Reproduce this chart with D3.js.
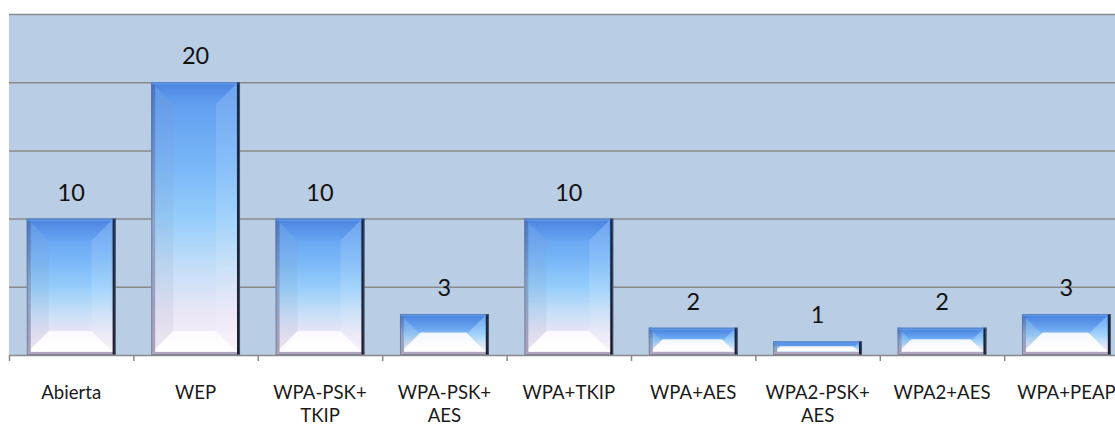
<!DOCTYPE html>
<html>
<head>
<meta charset="utf-8">
<script src="https://cdn.jsdelivr.net/npm/d3@7"></script>
<style>
  html, body { margin: 0; padding: 0; background: #ffffff; }
  svg { display: block; }
  .grid line { stroke: #8a8a8a; stroke-width: 1.5; }
  .grid path { display: none; }
  .x-line path, .x-line line { stroke: #8a8a8a; stroke-width: 1.5; }
  .x-labels text { font-family: Lato, "Open Sans", sans-serif; font-size: 18.6px; fill: #1a1a1a; }
  .value-label { font-family: Lato, "Open Sans", sans-serif; font-size: 23.5px; fill: #111111; }
</style>
</head>
<body>
<div id="chart"></div>
<script>
// Data
const categories = [
  "Abierta",
  "WEP",
  "WPA-PSK+TKIP",
  "WPA-PSK+AES",
  "WPA+TKIP",
  "WPA+AES",
  "WPA2-PSK+AES",
  "WPA2+AES",
  "WPA+PEAP",
];
const counts = [10, 20, 10, 3, 10, 2, 1, 2, 3];
const gridValues = [5, 10, 15, 20, 25];

// Dimensions
const svgWidth = 1115;
const svgHeight = 425;
const plot = { left: 9, top: 14, bottom: 355 };
const step = 124.4;
const plotRight = plot.left + step * categories.length;

const svg = d3
  .select("#chart")
  .append("svg")
  .attr("width", svgWidth)
  .attr("height", svgHeight);

// Scales (gap width 40% like the spreadsheet chart)
const xScale = d3
  .scaleBand()
  .domain(categories)
  .range([plot.left, plotRight])
  .paddingInner(0.4 / 1.4)
  .paddingOuter(0.2 / 1.4);
const yScale = d3.scaleLinear().domain([0, 25]).range([plot.bottom, plot.top]);
const boundaryScale = d3
  .scaleLinear()
  .domain([0, categories.length])
  .range([plot.left, plotRight]);

// Gradients
const defs = svg.append("defs");
function linear(id, stops, x2 = 0, y2 = 1) {
  const g = defs
    .append("linearGradient")
    .attr("id", id)
    .attr("x1", 0)
    .attr("y1", 0)
    .attr("x2", x2)
    .attr("y2", y2);
  g.selectAll("stop")
    .data(stops)
    .join("stop")
    .attr("offset", (d) => d[0])
    .attr("stop-color", (d) => d[1])
    .attr("stop-opacity", (d) => (d[2] === undefined ? 1 : d[2]));
}
linear("face", [
  [0, "#5b97ee"],
  [0.3, "#78b6f8"],
  [0.5, "#95cdfb"],
  [0.68, "#c4def8"],
  [0.85, "#ebe6f6"],
  [1, "#fbf4fc"],
]);
linear("topBevel", [
  [0, "#4a82dc", 0.85],
  [1, "#5d9aee", 0.35],
]);
linear("bottomBevel", [
  [0, "#fdfbff", 0.9],
  [1, "#ffffff", 1],
]);
linear("leftEdge", [
  [0, "#4a76c0"],
  [0.5, "#8aa2c8"],
  [1, "#aaa0b8"],
]);
linear("rightEdge", [
  [0, "#1a2844"],
  [1, "#1c1c26"],
]);

// Plot background
svg
  .append("rect")
  .attr("x", plot.left)
  .attr("y", plot.top)
  .attr("width", plotRight - plot.left)
  .attr("height", plot.bottom - plot.top)
  .attr("fill", "#b9cde5");

// Gridlines
svg
  .append("g")
  .attr("class", "grid")
  .attr("transform", `translate(${plot.left},0)`)
  .call(
    d3
      .axisLeft(yScale)
      .tickValues(gridValues)
      .tickSize(-(plotRight - plot.left))
      .tickFormat("")
  );

// Bars
const bars = svg
  .append("g")
  .selectAll(".bar")
  .data(categories.map((c, i) => ({ category: c, value: counts[i] })))
  .join("g")
  .attr("class", "bar");

bars.each(function (d) {
  const g = d3.select(this);
  const x = xScale(d.category);
  const w = xScale.bandwidth();
  const y = yScale(d.value);
  const h = yScale(0) - y;
  const e = 2; // frame
  const bevel = Math.min(20, (h - 2 * e) / 2);
  const ix = x + e;
  const iy = y + e;
  const iw = w - 2 * e - 2;
  const ih = h - 2 * e - 2;
  const poly = (pts) => pts.map((p) => p.join(",")).join(" ");

  g.append("rect")
    .attr("x", x)
    .attr("y", y)
    .attr("width", w)
    .attr("height", h)
    .attr("fill", "url(#face)");
  // top bevel
  g.append("polygon")
    .attr(
      "points",
      poly([
        [ix, iy],
        [ix + iw, iy],
        [ix + iw - bevel, iy + bevel],
        [ix + bevel, iy + bevel],
      ])
    )
    .attr("fill", "url(#topBevel)");
  // bottom bevel
  g.append("polygon")
    .attr(
      "points",
      poly([
        [ix, iy + ih],
        [ix + iw, iy + ih],
        [ix + iw - bevel, iy + ih - bevel],
        [ix + bevel, iy + ih - bevel],
      ])
    )
    .attr("fill", "url(#bottomBevel)");
  // side bevels
  g.append("polygon")
    .attr(
      "points",
      poly([
        [ix, iy],
        [ix + bevel, iy + bevel],
        [ix + bevel, iy + ih - bevel],
        [ix, iy + ih],
      ])
    )
    .attr("fill", "#8a94b4")
    .attr("opacity", 0.12);
  g.append("polygon")
    .attr(
      "points",
      poly([
        [ix + iw, iy],
        [ix + iw - bevel, iy + bevel],
        [ix + iw - bevel, iy + ih - bevel],
        [ix + iw, iy + ih],
      ])
    )
    .attr("fill", "#ffffff")
    .attr("opacity", 0.12);
  // frame: left, top, bottom, right
  g.append("rect")
    .attr("x", x)
    .attr("y", y)
    .attr("width", 4)
    .attr("height", h)
    .attr("fill", "url(#leftEdge)");
  g.append("rect")
    .attr("x", x)
    .attr("y", y)
    .attr("width", w)
    .attr("height", 2)
    .attr("fill", "#5e9ef8");
  g.append("rect")
    .attr("x", x)
    .attr("y", y + h - 3)
    .attr("width", w)
    .attr("height", 3)
    .attr("fill", "#b1a6bf");
  g.append("rect")
    .attr("x", x + w - 3)
    .attr("y", y)
    .attr("width", 3)
    .attr("height", h)
    .attr("fill", "url(#rightEdge)");
  g.append("rect")
    .attr("x", x + 0.5)
    .attr("y", y + 0.5)
    .attr("width", w - 1)
    .attr("height", h - 1)
    .attr("fill", "none")
    .attr("stroke", "#5a6a8c")
    .attr("stroke-opacity", 0.6);
});

// Value labels
bars
  .append("text")
  .attr("class", "value-label")
  .attr("x", (d) => xScale(d.category) + xScale.bandwidth() / 2)
  .attr("y", (d) => yScale(d.value) - 18)
  .attr("text-anchor", "middle")
  .text((d) => d.value);

// X axis line with ticks at category boundaries
svg
  .append("g")
  .attr("class", "x-line")
  .attr("transform", `translate(0,${plot.bottom})`)
  .call(
    d3
      .axisBottom(boundaryScale)
      .ticks(categories.length)
      .tickSize(6)
      .tickSizeOuter(0)
      .tickFormat("")
  );

// Category labels
const xLabels = svg
  .append("g")
  .attr("class", "x-labels")
  .attr("transform", `translate(0,${plot.bottom})`)
  .call(d3.axisBottom(xScale).tickSize(0).tickPadding(0));
xLabels.select(".domain").remove();
xLabels.selectAll(".tick text").attr("y", 44).attr("dy", null).call(wrap, step - 6);

function wrap(texts, maxWidth) {
  texts.each(function () {
    const text = d3.select(this);
    const label = text.text();
    if (this.getComputedTextLength() <= maxWidth) return;
    const cut = label.lastIndexOf("+") + 1;
    text.text(null);
    text.append("tspan").attr("x", 0).text(label.slice(0, cut));
    text.append("tspan").attr("x", 0).attr("dy", 23).text(label.slice(cut));
  });
}
</script>
</body>
</html>
